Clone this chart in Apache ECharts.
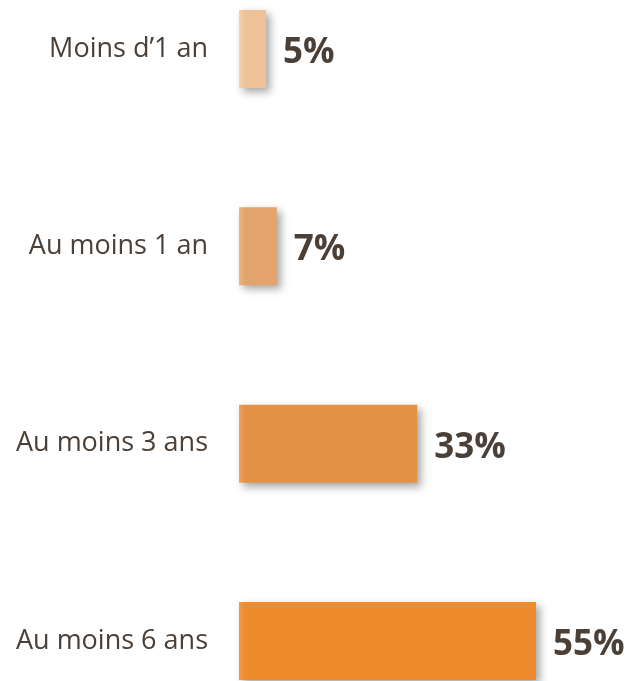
<!DOCTYPE html>
<html><head><meta charset="utf-8">
<script src="https://cdn.jsdelivr.net/npm/echarts@6/dist/echarts.min.js"></script>
<style>html,body{margin:0;padding:0;background:#fff}#c{width:630px;height:681px}</style>
</head><body><div id="c"></div>
<script>
const categories = ["Moins d\u20191 an", "Au moins 1 an", "Au moins 3 ans", "Au moins 6 ans"];
const values = [5, 7, 33, 55];
const barColors = ["#EEC197", "#E3A46C", "#E39145", "#EE8B2C"];
const lightColors = ["#F5D2AE", "#EDB581", "#EDA25C", "#F49A45"];

const chart = echarts.init(document.getElementById('c'));
chart.setOption({
  animation: false,
  grid: {left: 239, right: 67, top: 49, bottom: 40},
  xAxis: {type: 'value', min: 0, max: 60, show: false},
  yAxis: {
    type: 'category', data: categories, inverse: true, boundaryGap: false,
    axisLine: {show: false}, axisTick: {show: false}, splitLine: {show: false},
    axisLabel: {margin: 31, fontSize: 27, color: '#4A4038', fontFamily: 'Open Sans', padding: [4, 0, 0, 0]}
  },
  series: [{
    type: 'bar', barWidth: 78,
    data: values.map((v, i) => ({
      value: v,
      itemStyle: {
        color: new echarts.graphic.LinearGradient(0, 0, 1, 0, [
          {offset: 0, color: lightColors[i]},
          {offset: Math.min(0.3, 6 / (v * 5.4)), color: barColors[i]},
          {offset: 1, color: barColors[i]}
        ]),
        shadowColor: 'rgba(0,0,0,0.35)', shadowBlur: 8, shadowOffsetX: 4, shadowOffsetY: 4
      }
    })),
    label: {
      show: true, position: 'right', distance: 17, offset: [0, 4],
      formatter: '{c}%', fontSize: 35, fontWeight: 'bold', color: '#4A4038', fontFamily: 'Open Sans'
    }
  }]
});
</script></body></html>
